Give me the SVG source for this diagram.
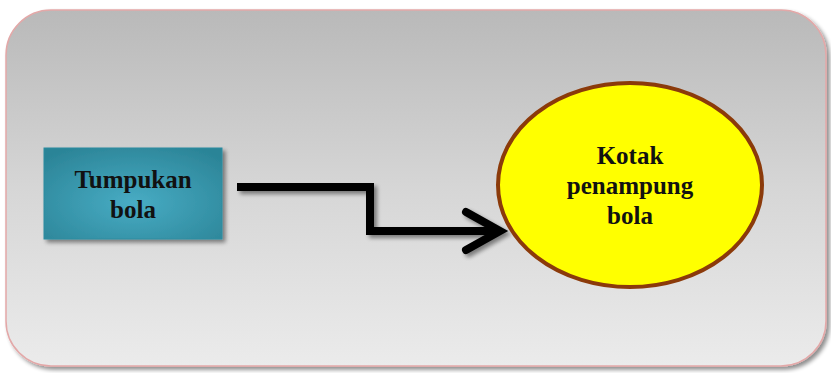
<svg xmlns="http://www.w3.org/2000/svg" width="831" height="373" viewBox="0 0 831 373">
<defs>
<linearGradient id="bg" x1="0" y1="0" x2="0" y2="1">
<stop offset="0" stop-color="#b9b9b9"/>
<stop offset="0.5" stop-color="#d6d6d6"/>
<stop offset="1" stop-color="#ebebeb"/>
</linearGradient>
<radialGradient id="teal" cx="0.5" cy="0.6" r="0.7">
<stop offset="0" stop-color="#48acc4"/>
<stop offset="1" stop-color="#2b8497"/>
</radialGradient>
<filter id="sh" x="-10%" y="-10%" width="130%" height="130%">
<feGaussianBlur in="SourceAlpha" stdDeviation="2"/>
<feOffset dx="3" dy="3"/>
<feComponentTransfer><feFuncA type="linear" slope="0.45"/></feComponentTransfer>
<feMerge><feMergeNode/><feMergeNode in="SourceGraphic"/></feMerge>
</filter>
<style>
.lbl{font-family:"Liberation Serif","Times New Roman",serif;font-weight:bold;font-size:25px;fill:#111;text-anchor:middle}
.conn{fill:none;stroke:#000;stroke-width:8;stroke-linejoin:miter}
</style>
</defs>
<g id="frame" filter="url(#sh)">
<rect x="6" y="10" width="820" height="356" rx="45" ry="45" fill="url(#bg)" stroke="#e3a8a8" stroke-width="1.5"/>
</g>
<g id="connectors" filter="url(#sh)">
<path class="conn" d="M237 187 H370 V231 H494"/>
<path class="conn" d="M466 212 L500 231 L466 250" stroke-linecap="round" stroke-linejoin="round"/>
</g>
<g id="node-tumpukan">
<rect x="44" y="148" width="178" height="91" fill="url(#teal)" stroke="#2c8ca0" stroke-width="1" filter="url(#sh)"/>
<text class="lbl" x="133" y="188">Tumpukan</text>
<text class="lbl" x="133" y="218">bola</text>
</g>
<g id="node-kotak">
<ellipse cx="630" cy="185" rx="132" ry="102" fill="#ffff00" stroke="#8b3a0a" stroke-width="4"/>
<text class="lbl" x="630" y="164">Kotak</text>
<text class="lbl" x="630" y="194">penampung</text>
<text class="lbl" x="630" y="224">bola</text>
</g>
</svg>
